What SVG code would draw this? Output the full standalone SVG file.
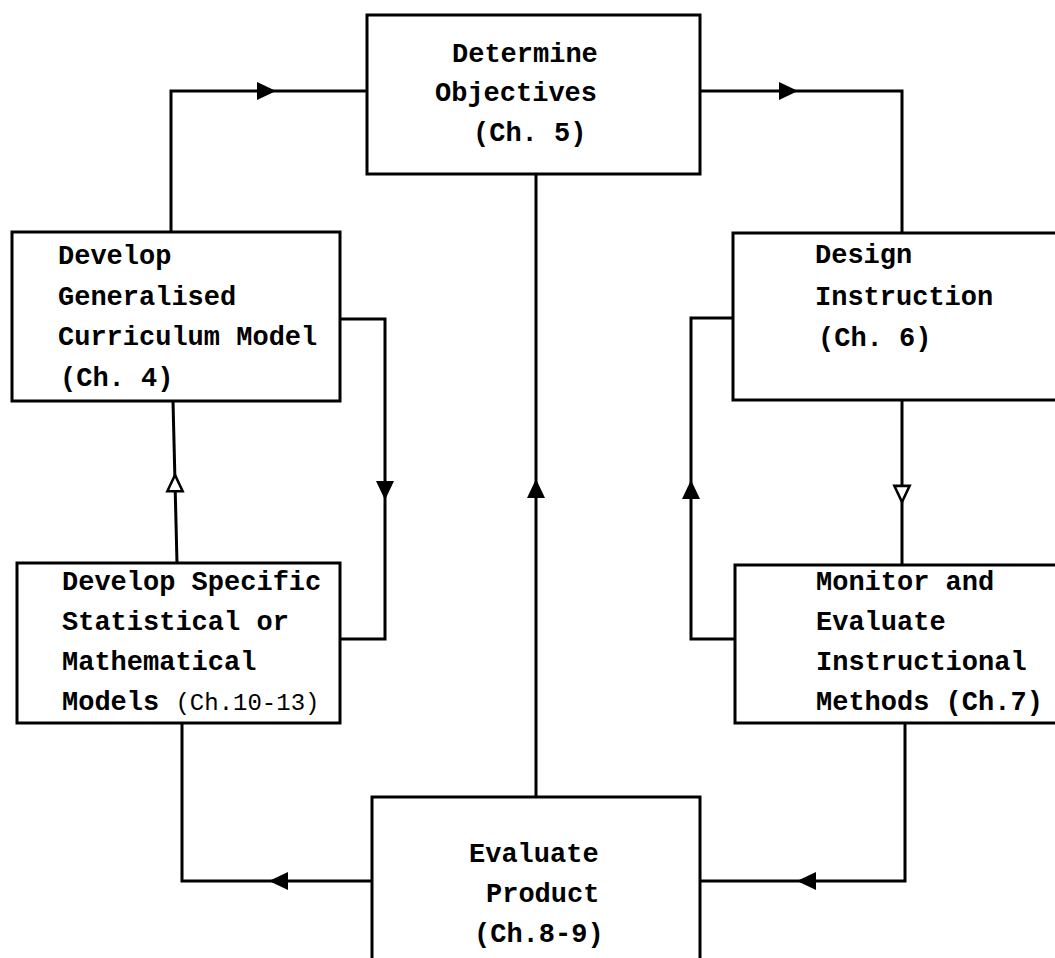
<svg xmlns="http://www.w3.org/2000/svg" xmlns:xlink="http://www.w3.org/1999/xlink" width="1055" height="958" viewBox="0 0 1055 958">
<style>
.box{fill:#fff;stroke:#000;stroke-width:3}
.ln{fill:none;stroke:#000;stroke-width:3;stroke-linejoin:miter}
.t{font-family:"Liberation Mono","DejaVu Sans Mono",monospace;font-weight:bold;font-size:27px;fill:#000}
.n{font-weight:normal;font-size:24px}
.hollow{fill:#fff;stroke:#000;stroke-width:3}
.solid{fill:#000}
</style>
<defs>
<path id="ah" d="M0,0 L-19,-9 L-19,9 Z"/>
</defs>
<rect width="1055" height="958" fill="#fff"/>
<g id="connectors">
<path class="ln" d="M171,232 V91 H367"/>
<path class="ln" d="M700,91 H902 V233"/>
<path class="ln" d="M536,174 V797"/>
<path class="ln" d="M340,319 H385 V639 H340"/>
<path class="ln" d="M177,563 L173,401"/>
<path class="ln" d="M902,400 V565"/>
<path class="ln" d="M735,639 H691 V318 H733"/>
<path class="ln" d="M182,723 V881 H372"/>
<path class="ln" d="M905,723 V881 H700"/>
<use href="#ah" class="solid" transform="translate(276,91)"/>
<use href="#ah" class="solid" transform="translate(798,91)"/>
<use href="#ah" class="solid" transform="translate(536,479) rotate(-90)"/>
<use href="#ah" class="solid" transform="translate(385,500) rotate(90)"/>
<use href="#ah" class="hollow" transform="translate(175,475) rotate(-90) scale(0.85)"/>
<use href="#ah" class="hollow" transform="translate(902,502) rotate(90) scale(0.85)"/>
<use href="#ah" class="solid" transform="translate(691,480) rotate(-90)"/>
<use href="#ah" class="solid" transform="translate(269,881) rotate(180)"/>
<use href="#ah" class="solid" transform="translate(797,881) rotate(180)"/>
</g>
<g id="determine">
<rect class="box" x="367" y="15" width="333" height="159"/>
<text class="t" x="452" y="62">Determine</text>
<text class="t" x="435" y="101">Objectives</text>
<text class="t" x="473" y="141">(Ch. 5)</text>
</g>
<g id="develop-general">
<rect class="box" x="12" y="232" width="328" height="169"/>
<text class="t" x="58" y="264">Develop</text>
<text class="t" x="58" y="305">Generalised</text>
<text class="t" x="58" y="345">Curriculum Model</text>
<text class="t" x="60" y="386">(Ch. 4)</text>
</g>
<g id="design">
<rect class="box" x="733" y="233" width="330" height="167"/>
<text class="t" x="815" y="263">Design</text>
<text class="t" x="815" y="305">Instruction</text>
<text class="t" x="818" y="346">(Ch. 6)</text>
</g>
<g id="develop-specific">
<rect class="box" x="17" y="563" width="323" height="160"/>
<text class="t" x="62" y="590">Develop Specific</text>
<text class="t" x="62" y="630">Statistical or</text>
<text class="t" x="62" y="670">Mathematical</text>
<text class="t" x="62" y="710">Models <tspan class="n">(Ch.10-13)</tspan></text>
</g>
<g id="monitor">
<rect class="box" x="735" y="565" width="330" height="158"/>
<text class="t" x="816" y="590">Monitor and</text>
<text class="t" x="816" y="630">Evaluate</text>
<text class="t" x="816" y="670">Instructional</text>
<text class="t" x="816" y="710">Methods (Ch.7)</text>
</g>
<g id="evaluate">
<rect class="box" x="372" y="797" width="328" height="170"/>
<text class="t" x="469" y="862">Evaluate</text>
<text class="t" x="486" y="902">Product</text>
<text class="t" x="474" y="942">(Ch.8-9)</text>
</g>
</svg>
